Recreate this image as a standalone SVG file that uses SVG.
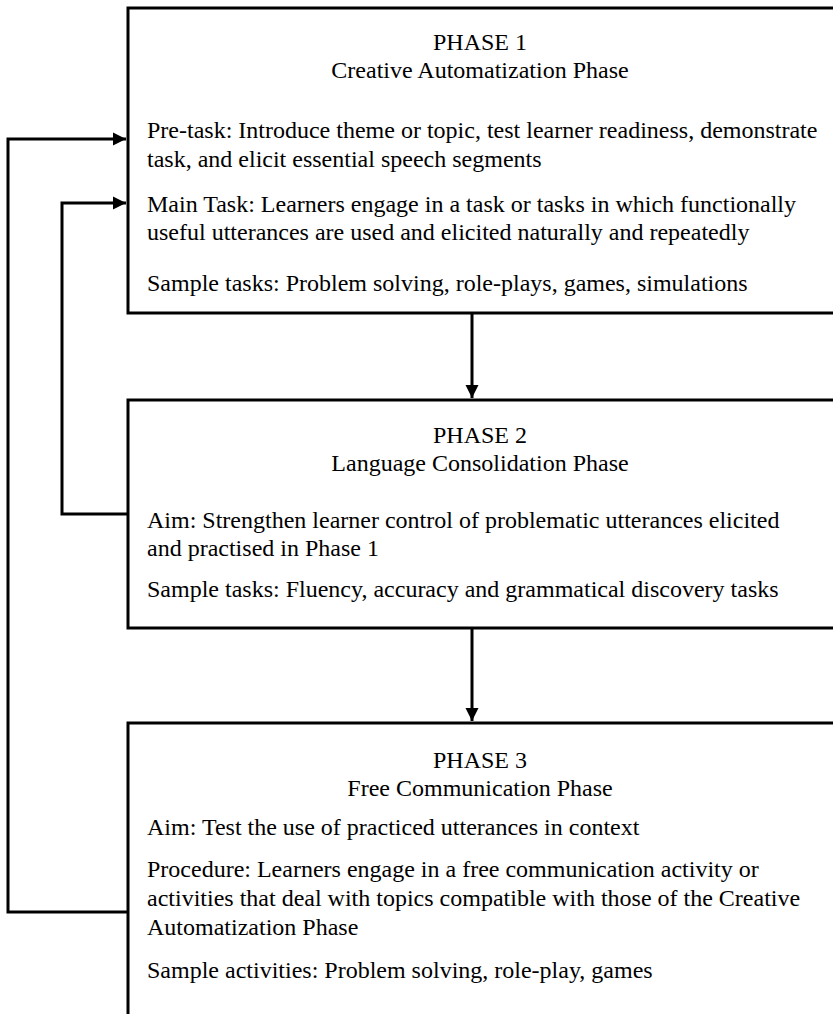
<svg xmlns="http://www.w3.org/2000/svg" width="833" height="1014" viewBox="0 0 833 1014">
<defs>
<style>
.box{fill:#fff;stroke:#000;stroke-width:3}
.t{font-family:"Liberation Serif","Times New Roman",serif;font-size:24px;fill:#000}
.c{text-anchor:middle}
.con{fill:none;stroke:#000;stroke-width:3}
</style>
<marker id="ah" viewBox="0 0 10 10" refX="10" refY="5" markerWidth="4.5" markerHeight="4.5" orient="auto" markerUnits="strokeWidth">
<path d="M0,0L10,5L0,10z" fill="#000"/>
</marker>
</defs>
<rect width="833" height="1014" fill="#fff"/>
<g id="phase1">
<rect class="box" x="128" y="8" width="720" height="305"/>
<text class="t c" x="480" y="50">PHASE 1</text>
<text class="t c" x="480" y="78">Creative Automatization Phase</text>
<text class="t" x="147" y="138">Pre-task: Introduce theme or topic, test learner readiness, demonstrate</text>
<text class="t" x="147" y="167">task, and elicit essential speech segments</text>
<text class="t" x="147" y="212">Main Task: Learners engage in a task or tasks in which functionally</text>
<text class="t" x="147" y="240">useful utterances are used and elicited naturally and repeatedly</text>
<text class="t" x="147" y="291">Sample tasks: Problem solving, role-plays, games, simulations</text>
</g>
<g id="phase2">
<rect class="box" x="128" y="400" width="720" height="228"/>
<text class="t c" x="480" y="443">PHASE 2</text>
<text class="t c" x="480" y="471">Language Consolidation Phase</text>
<text class="t" x="147" y="528">Aim: Strengthen learner control of problematic utterances elicited</text>
<text class="t" x="147" y="556">and practised in Phase 1</text>
<text class="t" x="147" y="597">Sample tasks: Fluency, accuracy and grammatical discovery tasks</text>
</g>
<g id="phase3">
<rect class="box" x="128" y="723" width="720" height="300"/>
<text class="t c" x="480" y="768">PHASE 3</text>
<text class="t c" x="480" y="796">Free Communication Phase</text>
<text class="t" x="147" y="835">Aim: Test the use of practiced utterances in context</text>
<text class="t" x="147" y="877">Procedure: Learners engage in a free communication activity or</text>
<text class="t" x="147" y="906">activities that deal with topics compatible with those of the Creative</text>
<text class="t" x="147" y="935">Automatization Phase</text>
<text class="t" x="147" y="978">Sample activities: Problem solving, role-play, games</text>
</g>
<g id="connectors">
<path class="con" d="M472,313V398" marker-end="url(#ah)"/>
<path class="con" d="M472,628V721" marker-end="url(#ah)"/>
<path class="con" d="M128,912H8V139H126" marker-end="url(#ah)"/>
<path class="con" d="M128,514H62V203H126" marker-end="url(#ah)"/>
</g>
</svg>
